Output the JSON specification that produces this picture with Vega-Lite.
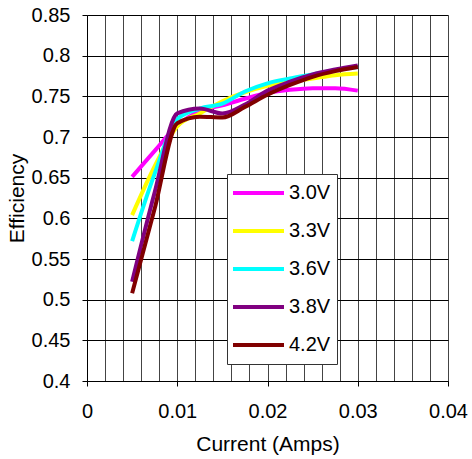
{
  "$schema": "https://vega.github.io/schema/vega-lite/v6.json",
  "autosize": {"type": "none"},
  "padding": {"left": 87, "top": 15, "right": 24, "bottom": 78},
  "width": 361,
  "height": 366,
  "background": "white",
  "config": {
    "view": {"stroke": null},
    "font": "Liberation Sans",
    "axis": {
      "labelFont": "Liberation Sans",
      "titleFont": "Liberation Sans",
      "labelFontSize": 20,
      "titleFontSize": 21,
      "titleFontWeight": "normal",
      "labelColor": "black",
      "titleColor": "black",
      "domainColor": "black",
      "tickColor": "black",
      "tickSize": 5
    }
  },
  "data": {
    "values": [
      {"s": "3.0V", "x": 0.005, "y": 0.651},
      {"s": "3.0V", "x": 0.0075, "y": 0.683},
      {"s": "3.0V", "x": 0.01, "y": 0.714},
      {"s": "3.0V", "x": 0.0125, "y": 0.732},
      {"s": "3.0V", "x": 0.015, "y": 0.739},
      {"s": "3.0V", "x": 0.0175, "y": 0.747},
      {"s": "3.0V", "x": 0.02, "y": 0.754},
      {"s": "3.0V", "x": 0.0225, "y": 0.758},
      {"s": "3.0V", "x": 0.025, "y": 0.76},
      {"s": "3.0V", "x": 0.0275, "y": 0.76},
      {"s": "3.0V", "x": 0.03, "y": 0.757},
      {"s": "3.3V", "x": 0.005, "y": 0.604},
      {"s": "3.3V", "x": 0.0075, "y": 0.664},
      {"s": "3.3V", "x": 0.01, "y": 0.713},
      {"s": "3.3V", "x": 0.0125, "y": 0.729},
      {"s": "3.3V", "x": 0.015, "y": 0.744},
      {"s": "3.3V", "x": 0.0175, "y": 0.755},
      {"s": "3.3V", "x": 0.02, "y": 0.763},
      {"s": "3.3V", "x": 0.0225, "y": 0.768},
      {"s": "3.3V", "x": 0.025, "y": 0.772},
      {"s": "3.3V", "x": 0.0275, "y": 0.776},
      {"s": "3.3V", "x": 0.03, "y": 0.778},
      {"s": "3.6V", "x": 0.005, "y": 0.572},
      {"s": "3.6V", "x": 0.0075, "y": 0.655},
      {"s": "3.6V", "x": 0.01, "y": 0.722},
      {"s": "3.6V", "x": 0.0125, "y": 0.735},
      {"s": "3.6V", "x": 0.015, "y": 0.741},
      {"s": "3.6V", "x": 0.0175, "y": 0.756},
      {"s": "3.6V", "x": 0.02, "y": 0.766},
      {"s": "3.6V", "x": 0.0225, "y": 0.772},
      {"s": "3.6V", "x": 0.025, "y": 0.777},
      {"s": "3.6V", "x": 0.0275, "y": 0.782},
      {"s": "3.6V", "x": 0.03, "y": 0.786},
      {"s": "3.8V", "x": 0.005, "y": 0.522},
      {"s": "3.8V", "x": 0.0075, "y": 0.632},
      {"s": "3.8V", "x": 0.01, "y": 0.729},
      {"s": "3.8V", "x": 0.0125, "y": 0.735},
      {"s": "3.8V", "x": 0.015, "y": 0.729},
      {"s": "3.8V", "x": 0.0175, "y": 0.74},
      {"s": "3.8V", "x": 0.02, "y": 0.757},
      {"s": "3.8V", "x": 0.0225, "y": 0.768},
      {"s": "3.8V", "x": 0.025, "y": 0.777},
      {"s": "3.8V", "x": 0.0275, "y": 0.783},
      {"s": "3.8V", "x": 0.03, "y": 0.788},
      {"s": "4.2V", "x": 0.005, "y": 0.508},
      {"s": "4.2V", "x": 0.0075, "y": 0.612},
      {"s": "4.2V", "x": 0.01, "y": 0.717},
      {"s": "4.2V", "x": 0.0125, "y": 0.725},
      {"s": "4.2V", "x": 0.015, "y": 0.724},
      {"s": "4.2V", "x": 0.0175, "y": 0.737},
      {"s": "4.2V", "x": 0.02, "y": 0.752},
      {"s": "4.2V", "x": 0.0225, "y": 0.764},
      {"s": "4.2V", "x": 0.025, "y": 0.774},
      {"s": "4.2V", "x": 0.0275, "y": 0.781},
      {"s": "4.2V", "x": 0.03, "y": 0.786}
    ]
  },
  "mark": {"type": "line", "strokeWidth": 4, "interpolate": "monotone", "strokeJoin": "round"},
  "encoding": {
    "x": {
      "field": "x",
      "type": "quantitative",
      "title": "Current (Amps)",
      "scale": {"domain": [0, 0.04], "nice": false, "zero": false},
      "axis": {
        "values": [0, 0.002, 0.004, 0.006, 0.008, 0.01, 0.012, 0.014, 0.016, 0.018, 0.02, 0.022, 0.024, 0.026, 0.028, 0.03, 0.032, 0.034, 0.036, 0.038, 0.04],
        "labelExpr": "abs(datum.value*100 - round(datum.value*100)) < 0.001 ? format(datum.value, '~g') : ''",
        "tickColor": {"condition": {"test": "abs(datum.value*100 - round(datum.value*100)) < 0.001", "value": "black"}, "value": "transparent"},
        "grid": true,
        "gridColor": "#444444",
        "gridOpacity": 1,
        "labelFlush": false,
        "labelOverlap": false,
        "labelPadding": 15,
        "titlePadding": 12
      }
    },
    "y": {
      "field": "y",
      "type": "quantitative",
      "title": "Efficiency",
      "scale": {"domain": [0.4, 0.85], "nice": false, "zero": false},
      "axis": {
        "values": [0.4, 0.45, 0.5, 0.55, 0.6, 0.65, 0.7, 0.75, 0.8, 0.85],
        "format": "~g",
        "grid": true,
        "gridColor": "#000000",
        "gridOpacity": 1,
        "labelFlush": false,
        "labelOverlap": false,
        "labelPadding": 12,
        "titlePadding": 4
      }
    },
    "color": {
      "field": "s",
      "type": "nominal",
      "scale": {
        "domain": ["3.0V", "3.3V", "3.6V", "3.8V", "4.2V"],
        "range": ["#FF00FF", "#FFFF00", "#00FFFF", "#800080", "#800000"]
      },
      "legend": {
        "orient": "none",
        "legendX": 140,
        "legendY": 159,
        "title": null,
        "symbolType": "stroke",
        "symbolSize": 2601,
        "symbolStrokeWidth": 4,
        "clipHeight": 26,
        "rowPadding": 12,
        "padding": 6,
        "strokeColor": "#333333",
        "fillColor": "white",
        "labelFontSize": 20,
        "labelFont": "Liberation Sans",
        "labelColor": "black",
        "labelOffset": 3,
        "symbolOffset": -2,
        "labelLimit": 0
      }
    }
  }
}
